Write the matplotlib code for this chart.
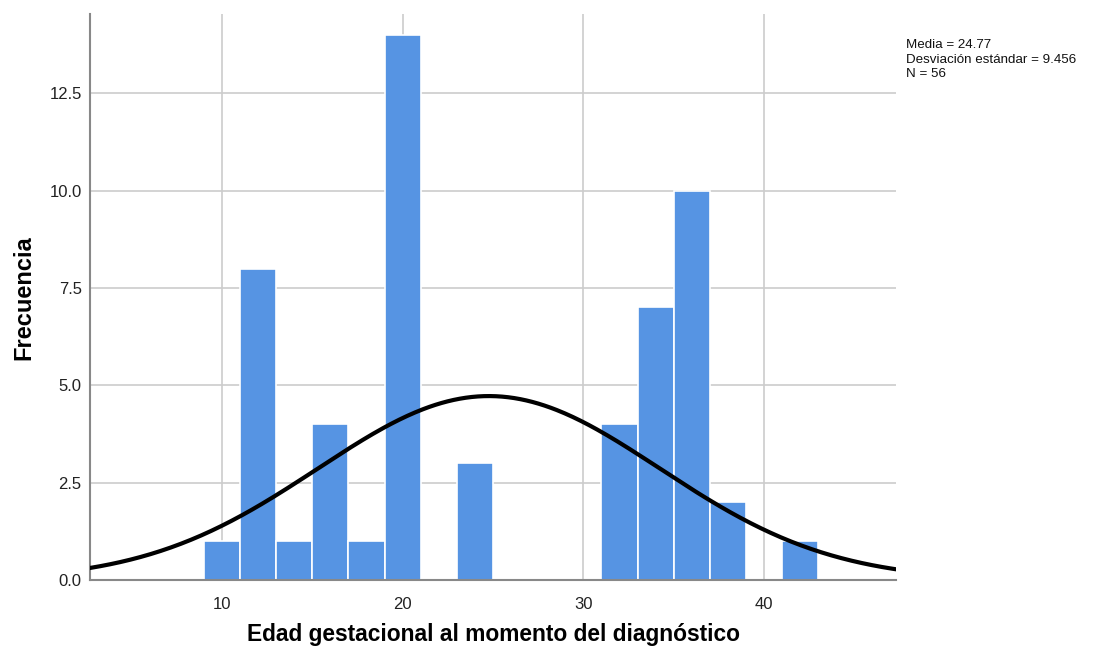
import numpy as np
import matplotlib
matplotlib.use("Agg")
import matplotlib.pyplot as plt

plt.rcParams['font.family'] = ['Liberation Sans', 'DejaVu Sans']

# histogram bins (width 2) and counts
bin_left = [9, 11, 13, 15, 17, 19, 23, 31, 33, 35, 37, 41]
counts = [1, 8, 1, 4, 1, 14, 3, 4, 7, 10, 2, 1]
bin_width = 2
media = 24.77
desv = 9.456
n = 56

fig = plt.figure(figsize=(11.07, 6.51), dpi=100)
ax = fig.add_axes([0.0813, 0.109, 0.7281, 0.869])

ax.bar(bin_left, counts, width=bin_width, align='edge', color='#5694e3',
       edgecolor='white', linewidth=1.2, zorder=2)

x = np.linspace(2.7, 47.3, 400)
y = n * bin_width / (desv * np.sqrt(2 * np.pi)) * np.exp(-0.5 * ((x - media) / desv) ** 2)
ax.plot(x, y, color='black', lw=3, zorder=3)

ax.set_xlim(2.7, 47.3)
ax.set_ylim(0, 14.53)
ax.set_xticks([10, 20, 30, 40])
ax.set_yticks([0, 2.5, 5, 7.5, 10, 12.5])
ax.set_yticklabels(['0.0', '2.5', '5.0', '7.5', '10.0', '12.5'])
ax.tick_params(length=0, labelsize=12, colors='#222222')
ax.tick_params(axis='x', pad=12)
ax.tick_params(axis='y', pad=6)
ax.grid(True, color='#cccccc', lw=1.2, zorder=0)
ax.set_axisbelow(True)
for s in ['top', 'right']:
    ax.spines[s].set_visible(False)
for s in ['left', 'bottom']:
    ax.spines[s].set_color('#888888')
    ax.spines[s].set_linewidth(1.5)

ax.set_xlabel('Edad gestacional al momento del diagnóstico', fontsize=16.4,
              fontweight='bold', labelpad=8)
ax.set_ylabel('Frecuencia', fontsize=17, fontweight='bold', labelpad=10)

fig.text(0.818, 0.94, 'Media = 24.77\nDesviación estándar = 9.456\nN = 56',
         fontsize=9.6, va='top', ha='left', linespacing=1.3, color='#111111')

fig.savefig('out.png', dpi=100)
